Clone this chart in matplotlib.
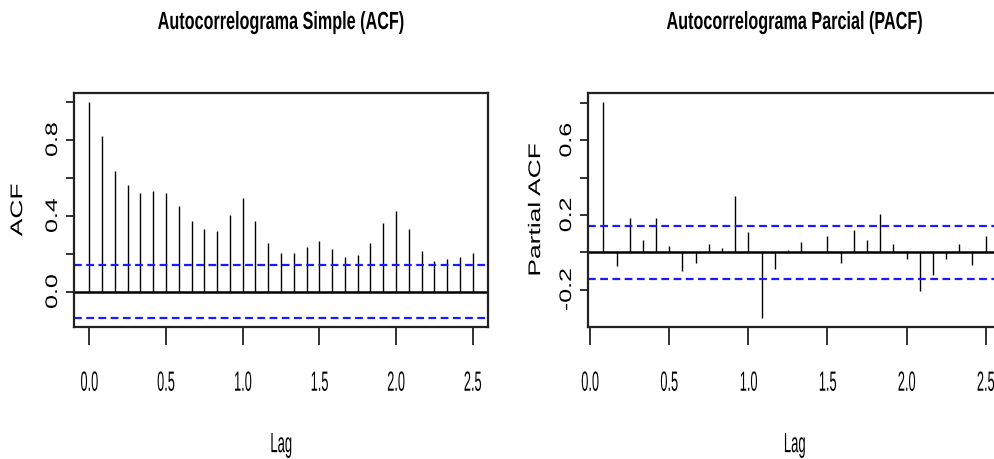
import numpy as np
import matplotlib.pyplot as plt
from matplotlib.patheffects import AbstractPathEffect
from matplotlib.transforms import Affine2D

# ACF values for lags 0..30 (monthly series, lag in years)
acf_vals = [1.0, 0.816, 0.636, 0.563, 0.521, 0.531, 0.521, 0.448, 0.372, 0.330,
            0.320, 0.404, 0.490, 0.372, 0.257, 0.205, 0.205, 0.236, 0.267, 0.226,
            0.184, 0.194, 0.257, 0.362, 0.425, 0.330, 0.215, 0.163, 0.173, 0.184,
            0.205]
# PACF values for lags 1..30
pacf_vals = [0.807, -0.072, 0.182, 0.067, 0.182, 0.035, -0.102, -0.060, 0.046, 0.025,
             0.300, 0.109, -0.354, -0.091, 0.014, 0.056, 0.002, 0.088, -0.060, 0.119,
             0.067, 0.204, 0.046, -0.039, -0.207, -0.123, -0.039, 0.046, -0.070, 0.088]
conf = 0.141
freq = 12

acf_lags = np.arange(len(acf_vals)) / freq
pacf_lags = np.arange(1, len(pacf_vals) + 1) / freq

titles = ["Autocorrelograma Simple (ACF)", "Autocorrelograma Parcial (PACF)"]
ylabels = ["ACF", "Partial ACF"]
xticks = [0.0, 0.5, 1.0, 1.5, 2.0, 2.5]
xticklabels = ["0.0", "0.5", "1.0", "1.5", "2.0", "2.5"]
acf_yticks = [0.0, 0.2, 0.4, 0.6, 0.8, 1.0]
acf_yticklabels = ["0.0", "", "0.4", "", "0.8", ""]
pacf_yticks = [-0.2, 0.0, 0.2, 0.4, 0.6, 0.8]
pacf_yticklabels = ["-0.2", "", "0.2", "", "0.6", ""]

FONT = ['Liberation Sans', 'DejaVu Sans']


class SqueezeX(AbstractPathEffect):
    # the reference looks horizontally squashed, so squeeze the text too
    def __init__(self, sx):
        super().__init__()
        self.sx = sx

    def draw_path(self, renderer, gc, tpath, affine, rgbFace=None):
        ext = tpath.get_extents(affine)
        cx = (ext.x0 + ext.x1) / 2
        aff = affine + Affine2D().translate(-cx, 0).scale(self.sx, 1).translate(cx, 0)
        renderer.draw_path(gc, tpath, aff, rgbFace)


fig = plt.figure(figsize=(9.95, 4.6), dpi=100)
ax1 = fig.add_axes([0.0744, 0.287, 0.416, 0.509])
ax2 = fig.add_axes([0.591, 0.287, 0.415, 0.509])


def rlim(lo, hi):
    d = (hi - lo) * 0.04
    return lo - d, hi + d


def draw(ax, lags, vals, yticks, yticklabels, title, ylabel, ylpad):
    ax.vlines(lags, 0, vals, color='black', lw=1.0)
    ax.axhline(0, color='black', lw=1.8)
    for c in (conf, -conf):
        ax.axhline(c, color='#1a1aff', lw=1.6, ls=(0, (3.5, 2)))
    ax.set_xlim(*rlim(lags[0], lags[-1]))
    ax.set_ylim(*rlim(min(-conf, min(vals)), max(vals)))
    for s in ax.spines.values():
        s.set_linewidth(1.6)
        s.set_color('#222222')
    ax.set_xticks(xticks)
    ax.set_xticklabels(xticklabels, family=FONT, fontsize=20)
    ax.set_yticks(yticks)
    ax.set_yticklabels(yticklabels, family=FONT, fontsize=18,
                       rotation=90, va='center')
    ax.tick_params(axis='x', length=13, width=1.3, pad=18.5, color='#222222')
    ax.tick_params(axis='y', length=5.8, width=1.3, pad=0.8, color='#222222')
    for lbl in ax.get_xticklabels():
        lbl.set_path_effects([SqueezeX(0.46)])
    for lbl in ax.get_yticklabels():
        lbl.set_path_effects([SqueezeX(0.67)])
    t = ax.set_title(title, family=FONT, fontweight='bold', fontsize=17.8, pad=46)
    t.set_path_effects([SqueezeX(0.655)])
    xl = ax.set_xlabel("Lag", family=FONT, fontsize=20, labelpad=25.5)
    xl.set_path_effects([SqueezeX(0.47)])
    yl = ax.set_ylabel(ylabel, family=FONT, fontsize=19, labelpad=ylpad)
    yl.set_path_effects([SqueezeX(0.64)])


draw(ax1, acf_lags, acf_vals, acf_yticks, acf_yticklabels, titles[0], ylabels[0], 7.5)
draw(ax2, pacf_lags, pacf_vals, pacf_yticks, pacf_yticklabels, titles[1], ylabels[1], 4.6)

fig.savefig("out.png", dpi=100)
